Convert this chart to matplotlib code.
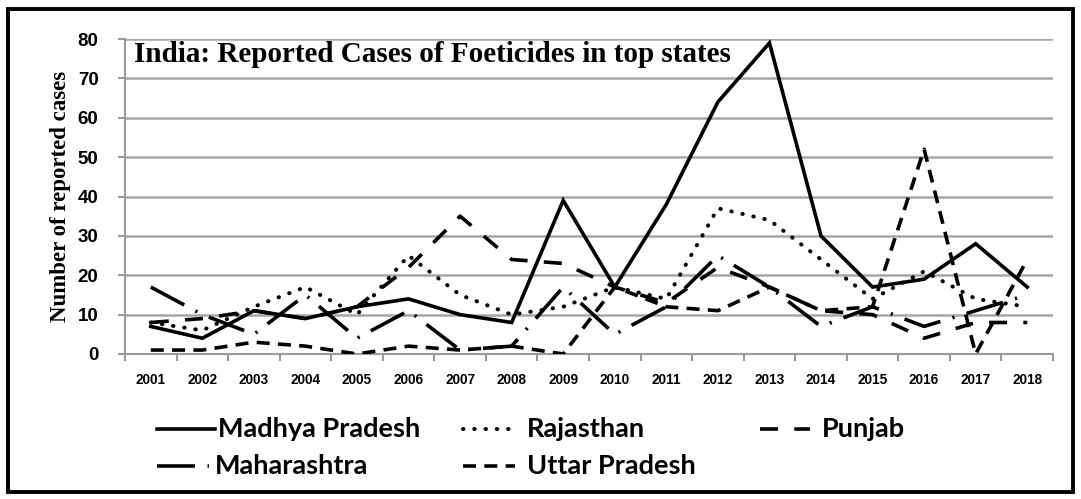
import matplotlib
matplotlib.use("Agg")
import matplotlib.pyplot as plt
from matplotlib.lines import Line2D
from matplotlib.patches import Rectangle

years = ["2001", "2002", "2003", "2004", "2005", "2006", "2007", "2008", "2009",
         "2010", "2011", "2012", "2013", "2014", "2015", "2016", "2017", "2018"]

madhya_pradesh = [7, 4, 11, 9, 12, 14, 10, 8, 39, 17, 38, 64, 79, 30, 17, 19, 28, 17]
rajasthan = [8, 6, 12, 17, 10, 25, 15, 10, 12, 17, 14, 37, 34, 24, 14, 21, 14, 12]
punjab = [8, 9, 11, 9, 12, 22, 35, 24, 23, 17, 13, 22, 17, 11, 10, 4, 8, 8]
maharashtra = [17, 10, 5, 15, 4, 11, 1, 2, 17, 5, 12, 25, 17, 7, 12, 7, 11, 15]
uttar_pradesh = [1, 1, 3, 2, 0, 2, 1, 2, 0, 17, 12, 11, 17, 11, 12, 52, 0, 24]

y_ticks = [0, 10, 20, 30, 40, 50, 60, 70, 80]

series = [
    ("Madhya Pradesh", madhya_pradesh),
    ("Rajasthan", rajasthan),
    ("Punjab", punjab),
    ("Maharashtra", maharashtra),
    ("Uttar Pradesh", uttar_pradesh),
]

styles = {
    "Madhya Pradesh": dict(linestyle="-", lw=2.6),
    "Rajasthan": dict(linestyle=(0, (0.1, 2.7)), lw=2.9, dash_capstyle="round"),
    "Punjab": dict(linestyle=(0, (5.0, 4.5)), lw=2.6),
    "Maharashtra": dict(linestyle=(0, (10.5, 3.5, 0.6, 3.5)), lw=2.6),
    "Uttar Pradesh": dict(linestyle=(0, (3.6, 2.3)), lw=2.6),
}

W, H = 1081, 499
fig = plt.figure(figsize=(W / 100, H / 100), dpi=100)
fig.patch.set_facecolor("white")

ax = fig.add_axes([125 / W, 1 - 354 / H, (1053 - 125) / W, (354 - 39) / H])
x = list(range(len(years)))

for name, vals in series:
    ax.plot(x, vals, color="black", solid_joinstyle="miter", **styles[name], zorder=3)

ax.set_xlim(-0.5, len(years) - 0.5)
ax.set_ylim(0, 80)
ax.set_yticks(y_ticks)
ax.set_yticklabels([str(v) for v in y_ticks], fontfamily="Liberation Sans",
                   fontweight="bold", fontsize=13.5)
ax.set_xticks(x)
ax.set_xticklabels(years, fontfamily="Liberation Sans", fontweight="bold", fontsize=9.8)
ax.set_xticks([i + 0.5 for i in range(-1, len(years))], minor=True)
ax.tick_params(axis="x", which="major", length=0, pad=14)
ax.tick_params(axis="x", which="minor", length=5, width=1.5, color="#9a9a9a")
ax.tick_params(axis="y", length=5, width=1.5, color="#9a9a9a", pad=14)

ax.grid(axis="y", color="#a6a6a6", lw=1.8, zorder=0)
ax.set_axisbelow(True)
for side in ("top", "right"):
    ax.spines[side].set_visible(False)
for side in ("left", "bottom"):
    ax.spines[side].set_color("#9a9a9a")
    ax.spines[side].set_linewidth(1.5)

ax.set_ylabel("Number of reported cases", fontfamily="Liberation Serif",
              fontweight="bold", fontsize=16.5, labelpad=5)

ax.text(0.01, 0.995, "India: Reported Cases of Foeticides in top states",
        transform=ax.transAxes, ha="left", va="top",
        fontfamily="Liberation Serif", fontweight="bold", fontsize=21, zorder=5)

# legend drawn in figure pixel coordinates
legend_items = [
    ("Madhya Pradesh", 157, 215, 218, 429),
    ("Rajasthan", 463, 518, 527, 429),
    ("Punjab", 760, 810, 822, 429),
    ("Maharashtra", 157, 209, 215, 466),
    ("Uttar Pradesh", 463, 515, 527, 466),
]
for name, x0, x1, tx, yc in legend_items:
    yf = 1 - yc / H
    st = dict(styles[name])
    fig.add_artist(Line2D([x0 / W, x1 / W], [yf, yf], color="black",
                          transform=fig.transFigure, **st))
    fig.text(tx / W, yf, name, ha="left", va="center", fontfamily="Lato",
             fontweight="bold", fontsize=19.5)

fig.add_artist(Rectangle((8 / W, 1 - 492 / H), (1073 - 8) / W, (492 - 9) / H,
                         transform=fig.transFigure, fill=False, edgecolor="black",
                         lw=2.8))

fig.savefig("out.png", dpi=100)
